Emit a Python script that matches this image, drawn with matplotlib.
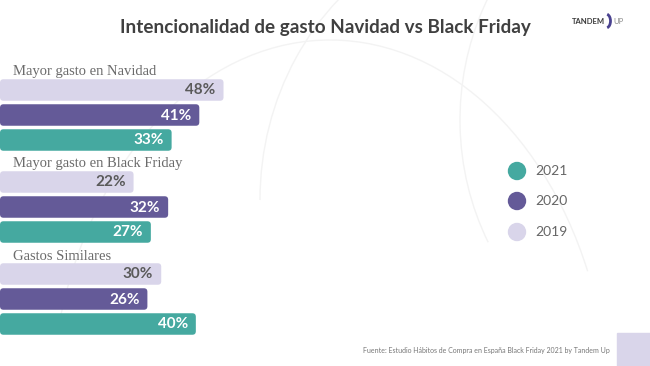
import matplotlib
matplotlib.use("Agg")
import matplotlib.pyplot as plt
from matplotlib.patches import FancyBboxPatch, Circle, Rectangle, Arc

categories = ["Mayor gasto en Navidad", "Mayor gasto en Black Friday", "Gastos Similares"]
years = ["2019", "2020", "2021"]
values_2019 = [48, 22, 30]
values_2020 = [41, 32, 26]
values_2021 = [33, 27, 40]
series = [values_2019, values_2020, values_2021]
colors = ["#d9d5ea", "#645a98", "#45a9a0"]
text_colors = ["#5a5a5a", "white", "white"]
legend_order = ["2021", "2020", "2019"]

W, H = 650, 366
fig = plt.figure(figsize=(W / 100, H / 100), dpi=100)
fig.patch.set_facecolor("white")

# background decorative faint arcs
bg = fig.add_axes([0, 0, 1, 1])
bg.set_xlim(0, W); bg.set_ylim(H, 0); bg.axis("off")
for (cx, cy, w, h, t1, t2) in [(520, 200, 520, 560, 180, 300),
                               (330, 420, 560, 760, 200, 330),
                               (700, 120, 480, 520, 150, 260)]:
    bg.add_patch(Arc((cx, cy), w, h, theta1=t1, theta2=t2, color="#f3f3f3", lw=1.0))

XMIN = -16.6
XMAX = XMIN + W / 3.46
ax = fig.add_axes([0, 0, 1, 1])
ax.set_xlim(XMIN, XMAX)
ax.set_ylim(H, 0)
ax.axis("off")

group_top = 90
group_gap = 92
bar_gap = 25
bar_h = 21.5

for g, cat in enumerate(categories):
    y0 = group_top + g * group_gap
    ax.text(XMIN + 13 / 3.46, y0 - 18, cat, fontsize=10.5, family="Liberation Serif",
            color="#6b6b6b", va="center", ha="left")
    for i, vals in enumerate(series):
        y = y0 + i * bar_gap
        bars = ax.barh([y], [vals[g] - XMIN], left=XMIN, height=bar_h, color=colors[i])
        for b in bars:
            x, yb = b.get_x(), b.get_y()
            w, h = b.get_width(), b.get_height()
            b.set_visible(False)
            ax.add_patch(FancyBboxPatch((x, yb), w, h,
                                        boxstyle="round,pad=0,rounding_size=1.0",
                                        mutation_aspect=3.46,
                                        facecolor=colors[i], edgecolor="none"))
        ax.text(vals[g] - 2.3, y + 0.5, f"{vals[g]}%", ha="right", va="center",
                fontsize=11, family="Lato", fontweight="bold", color=text_colors[i])

# title
bg.text(325, 28, "Intencionalidad de gasto Navidad vs Black Friday", ha="center", va="center",
        fontsize=13.6, family="Lato", fontweight="bold", color="#404040")

# logo
bg.text(572, 21, "TANDEM", ha="left", va="center", fontsize=5.5, family="Lato",
        fontweight="bold", color="#3a3a3a")
bg.add_patch(Arc((606, 21), 9, 14, theta1=-80, theta2=80, color="#4a4290", lw=2.0))
bg.text(613, 21, "UP", ha="left", va="center", fontsize=5.5, family="Lato",
        color="#8a8a8a")

# legend
leg_y = [171, 201, 232]
leg_cols = {"2019": colors[0], "2020": colors[1], "2021": colors[2]}
for yy, lab in zip(leg_y, legend_order):
    bg.add_patch(Circle((517, yy), 8.5, color=leg_cols[lab]))
    bg.text(535, yy, lab, ha="left", va="center", fontsize=10, family="Lato", color="#666666")

# footer
bg.text(610, 351, "Fuente: Estudio Hábitos de Compra en España Black Friday 2021 by Tandem Up",
        ha="right", va="center", fontsize=5, family="Lato", color="#777777")
bg.add_patch(Rectangle((617, 333), 33, 33, color="#d9d5ea"))

fig.savefig("out.png", dpi=100)
